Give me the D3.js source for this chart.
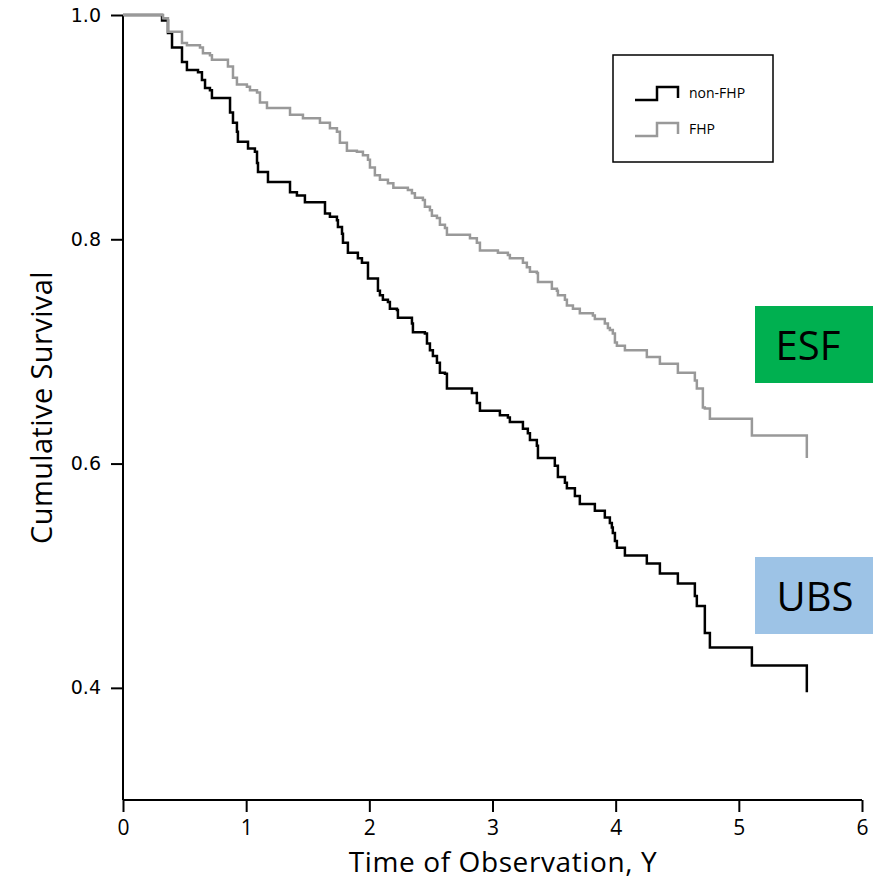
<!DOCTYPE html>
<html>
<head>
<meta charset="utf-8">
<script src="https://cdn.jsdelivr.net/npm/d3@7"></script>
<style>
	body { margin: 0; background: #fff; }
	svg text { font-family: 'Open Sans', 'Noto Sans', sans-serif; }
</style>
</head>
<body>
<main></main>
<script>
// Kaplan-Meier steps: time (years) at which survival drops, and the new survival value
const nonFhpTime = [0, 0.317, 0.365, 0.398, 0.479, 0.519, 0.609, 0.641, 0.666, 0.706, 0.722, 0.869, 0.893, 0.925, 0.933, 1.015, 1.071, 1.088, 1.096, 1.177, 1.356, 1.412, 1.477, 1.640, 1.680, 1.737, 1.745, 1.778, 1.786, 1.826, 1.907, 1.940, 1.989, 2.070, 2.086, 2.110, 2.151, 2.167, 2.224, 2.232, 2.346, 2.354, 2.451, 2.468, 2.492, 2.516, 2.549, 2.573, 2.614, 2.630, 2.833, 2.873, 2.898, 3.060, 3.125, 3.141, 3.247, 3.287, 3.304, 3.360, 3.369, 3.506, 3.531, 3.588, 3.604, 3.669, 3.709, 3.831, 3.912, 3.953, 3.969, 3.977, 3.994, 4.010, 4.075, 4.253, 4.359, 4.505, 4.643, 4.659, 4.724, 4.765, 5.106, 5.552]
const nonFhpSurv = [1, 0.995, 0.984, 0.971, 0.958, 0.951, 0.949, 0.942, 0.935, 0.933, 0.926, 0.913, 0.904, 0.896, 0.887, 0.881, 0.878, 0.868, 0.860, 0.851, 0.842, 0.839, 0.833, 0.823, 0.820, 0.817, 0.811, 0.805, 0.797, 0.788, 0.783, 0.779, 0.765, 0.754, 0.750, 0.746, 0.744, 0.738, 0.737, 0.730, 0.725, 0.717, 0.716, 0.707, 0.701, 0.696, 0.690, 0.681, 0.680, 0.667, 0.663, 0.654, 0.647, 0.643, 0.641, 0.637, 0.631, 0.627, 0.621, 0.616, 0.605, 0.598, 0.588, 0.583, 0.578, 0.571, 0.564, 0.558, 0.552, 0.547, 0.543, 0.538, 0.531, 0.525, 0.518, 0.511, 0.502, 0.493, 0.482, 0.473, 0.449, 0.436, 0.420, 0.396]
const fhpTime = [0, 0.325, 0.365, 0.479, 0.519, 0.625, 0.649, 0.706, 0.722, 0.852, 0.893, 0.925, 1.006, 1.031, 1.088, 1.112, 1.169, 1.356, 1.461, 1.599, 1.680, 1.737, 1.761, 1.818, 1.899, 1.948, 1.989, 2.005, 2.045, 2.086, 2.151, 2.195, 2.313, 2.346, 2.370, 2.435, 2.451, 2.492, 2.508, 2.549, 2.573, 2.614, 2.630, 2.817, 2.873, 2.898, 3.044, 3.125, 3.141, 3.247, 3.279, 3.304, 3.360, 3.369, 3.482, 3.523, 3.531, 3.588, 3.604, 3.653, 3.709, 3.815, 3.831, 3.912, 3.937, 3.953, 3.977, 3.994, 4.010, 4.075, 4.253, 4.359, 4.505, 4.643, 4.659, 4.708, 4.724, 4.765, 5.106, 5.552]
const fhpSurv = [1, 0.997, 0.985, 0.975, 0.973, 0.971, 0.966, 0.964, 0.960, 0.954, 0.944, 0.938, 0.936, 0.933, 0.931, 0.922, 0.917, 0.911, 0.908, 0.904, 0.899, 0.896, 0.886, 0.879, 0.878, 0.875, 0.871, 0.864, 0.857, 0.853, 0.850, 0.846, 0.844, 0.841, 0.837, 0.835, 0.829, 0.826, 0.821, 0.819, 0.813, 0.810, 0.804, 0.801, 0.797, 0.790, 0.788, 0.786, 0.783, 0.779, 0.775, 0.771, 0.770, 0.762, 0.756, 0.754, 0.750, 0.746, 0.741, 0.738, 0.734, 0.732, 0.729, 0.725, 0.721, 0.719, 0.716, 0.708, 0.705, 0.701, 0.695, 0.689, 0.681, 0.674, 0.667, 0.650, 0.649, 0.640, 0.625, 0.605]
const xTicks = [0, 1, 2, 3, 4, 5, 6]
const yTicks = [0.4, 0.6, 0.8, 1.0]
const seriesNames = ['non-FHP', 'FHP']
const boxLabels = ['ESF', 'UBS']

const width = 882
const height = 882
const margin = { top: 15, right: 20, bottom: 82, left: 123 }
const colors = ['#000000', '#999999']
const boxColors = ['#00b050', '#9dc3e6']

const svg = d3.select('main')
	.append('svg')
	.attr('width', width)
	.attr('height', height)

const xScale = d3.scaleLinear()
	.domain([0, 6])
	.range([margin.left, width - margin.right])

const yScale = d3.scaleLinear()
	.domain([0.3, 1.0])
	.range([height - margin.bottom, margin.top])

// X-Axis
const xAxis = d3.axisBottom(xScale)
	.tickValues(xTicks)
	.tickSize(12)
	.tickPadding(8)
	.tickFormat(d3.format('d'))

const gx = svg.append('g')
	.attr('transform', `translate(0,${height - margin.bottom})`)
	.call(xAxis)
gx.select('.domain').attr('stroke-width', 2).attr('d', `M${xScale(0)},0H${xScale(6)}`)
gx.selectAll('.tick line').attr('stroke-width', 2)
gx.selectAll('.tick text')
	.style('font-size', '21px')
	.style('font-family', "'Open Sans', sans-serif")
	.attr('fill', '#000')

// Y-Axis
const yAxis = d3.axisLeft(yScale)
	.tickValues(yTicks)
	.tickSize(12)
	.tickPadding(10)
	.tickFormat(d3.format('.1f'))

const gy = svg.append('g')
	.attr('transform', `translate(${margin.left},0)`)
	.call(yAxis)
gy.select('.domain').attr('stroke-width', 2).attr('d', `M0,${yScale(1.0)}V${yScale(0.3)}`)
gy.selectAll('.tick line').attr('stroke-width', 2)
gy.selectAll('.tick text')
	.style('font-size', '19px')
	.style('font-family', "'DejaVu Sans', sans-serif")
	.attr('fill', '#000')

// Axis titles
svg.append('text')
	.attr('x', 503)
	.attr('y', 872)
	.attr('text-anchor', 'middle')
	.attr('font-size', 28)
	.attr('letter-spacing', 0.6)
	.text('Time of Observation, Y')

svg.append('text')
	.attr('transform', `translate(52,${(yScale(1.0) + yScale(0.3)) / 2}) rotate(-90)`)
	.attr('text-anchor', 'middle')
	.attr('font-size', 29)
	.attr('letter-spacing', 0.4)
	.text('Cumulative Survival')

// Survival curves
const line = d3.line()
	.x(d => xScale(d[0]))
	.y(d => yScale(d[1]))
	.curve(d3.curveStepAfter)

const series = [
	d3.zip(nonFhpTime, nonFhpSurv),
	d3.zip(fhpTime, fhpSurv)
]

svg.append('g')
	.selectAll('path')
	.data(series)
	.enter()
	.append('path')
	.attr('d', d => line(d))
	.attr('fill', 'none')
	.attr('stroke', (d, i) => colors[i])
	.attr('stroke-width', 2.5)

// Legend
const legend = svg.append('g')
	.attr('transform', 'translate(613,55)')

legend.append('rect')
	.attr('width', 160)
	.attr('height', 107)
	.attr('fill', '#fff')
	.attr('stroke', '#000')
	.attr('stroke-width', 1.5)

seriesNames.forEach((name, i) => {
	const y = 45 + i * 36
	legend.append('path')
		.attr('d', `M22,${y}H44V${y - 13}H65V${y - 2}`)
		.attr('fill', 'none')
		.attr('stroke', colors[i])
		.attr('stroke-width', 2.5)
	legend.append('text')
		.attr('x', 76)
		.attr('y', y - 2)
		.attr('font-size', 14)
		.text(name)
})

// Group boxes
const boxY = [306, 557]
const labelX = [808, 815]
boxLabels.forEach((label, i) => {
	svg.append('rect')
		.attr('x', 755)
		.attr('y', boxY[i])
		.attr('width', 118)
		.attr('height', 77)
		.attr('fill', boxColors[i])
	svg.append('text')
		.attr('x', labelX[i])
		.attr('y', boxY[i] + 54)
		.attr('text-anchor', 'middle')
		.attr('font-size', 40)
		.text(label)
})
</script>
</body>
</html>
